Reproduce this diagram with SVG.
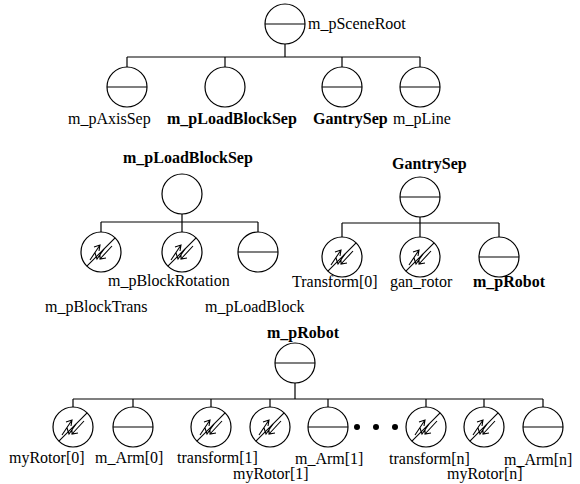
<svg xmlns="http://www.w3.org/2000/svg" xmlns:xlink="http://www.w3.org/1999/xlink" width="580" height="484" viewBox="0 0 580 484" font-family="'Liberation Serif', 'DejaVu Serif', serif" font-size="16">
<style>
.n{fill:#fff;stroke:#000;stroke-width:1.2}
.l{fill:none;stroke:#000;stroke-width:1.2}
.i{fill:none;stroke:#000;stroke-width:1.1}
.t{font-family:'Liberation Serif','DejaVu Serif',serif;font-size:16px;fill:#000}
.b{font-weight:bold}
</style>
<defs>
<g id="sep"><circle class="n" r="20"/><line class="i" x1="-20" y1="0" x2="20" y2="0"/></g>
<g id="grp"><circle class="n" r="20"/></g>
<g id="xf"><circle class="n" r="20"/>
<line class="i" x1="-14.1" y1="14.1" x2="14.1" y2="-14.1"/>
<path class="i" d="M-11,8 L-1,-7 M-7,-5 L-1,-7 L-2,-1 M-6,1 L-4,7 L3,-3 M11,-6 L-1,7 M-1,1 L-1,7 L5,6"/>
</g>
</defs>

<g id="connectors">
<path class="l" d="M285,44V57 M127,57H420 M127,57V67 M225,57V67 M342,57V67 M420,57V67"/>
<path class="l" d="M182,214V222 M101,222H258 M101,222V232 M182,222V232 M258,222V232"/>
<path class="l" d="M420,217V223 M342,223H499 M342,223V237 M420,223V237 M499,223V237"/>
<path class="l" d="M295,383V399 M73,399H543 M73,399V407 M133,399V407 M211,399V407 M270,399V407 M328,399V407 M426,399V407 M484,399V407 M543,399V407"/>
</g>

<g id="sceneRoot"><use xlink:href="#sep" x="285" y="24"/><text class="t" x="308" y="29">m_pSceneRoot</text></g>
<g id="axisSep"><use xlink:href="#sep" x="127" y="87"/><text class="t" x="68" y="124">m_pAxisSep</text></g>
<g id="loadBlockSep"><use xlink:href="#grp" x="225" y="87"/><text class="t b" x="167" y="124">m_pLoadBlockSep</text></g>
<g id="gantrySep"><use xlink:href="#sep" x="342" y="87"/><text class="t b" x="313" y="124">GantrySep</text></g>
<g id="line"><use xlink:href="#sep" x="420" y="87"/><text class="t" x="393" y="124">m_pLine</text></g>

<g id="loadBlockSep2"><text class="t b" x="123" y="163">m_pLoadBlockSep</text><use xlink:href="#grp" x="182" y="194"/></g>
<g id="blockTrans"><use xlink:href="#xf" x="101" y="252"/><text class="t" x="45" y="312">m_pBlockTrans</text></g>
<g id="blockRotation"><use xlink:href="#xf" x="182" y="252"/><text class="t" x="108" y="286">m_pBlockRotation</text></g>
<g id="loadBlock"><use xlink:href="#sep" x="258" y="252"/><text class="t" x="205" y="312">m_pLoadBlock</text></g>

<g id="gantrySep2"><text class="t b" x="392" y="169">GantrySep</text><use xlink:href="#sep" x="420" y="197"/></g>
<g id="transform0"><use xlink:href="#xf" x="342" y="257"/><text class="t" x="292" y="287">Transform[0]</text></g>
<g id="ganRotor"><use xlink:href="#xf" x="420" y="257"/><text class="t" x="390" y="287">gan_rotor</text></g>
<g id="robot"><use xlink:href="#sep" x="499" y="257"/><text class="t b" x="473" y="287">m_pRobot</text></g>

<g id="robot2"><text class="t b" x="267" y="338">m_pRobot</text><use xlink:href="#sep" x="295" y="363"/></g>
<g id="myRotor0"><use xlink:href="#xf" x="73" y="427"/><text class="t" x="9" y="463">myRotor[0]</text></g>
<g id="arm0"><use xlink:href="#sep" x="133" y="427"/><text class="t" x="95" y="463">m_Arm[0]</text></g>
<g id="transform1"><use xlink:href="#xf" x="211" y="427"/><text class="t" x="177" y="463">transform[1]</text></g>
<g id="myRotor1"><use xlink:href="#xf" x="270" y="427"/><text class="t" x="233" y="479">myRotor[1]</text></g>
<g id="arm1"><use xlink:href="#sep" x="328" y="427"/><text class="t" x="295" y="464">m_Arm[1]</text></g>
<g id="ellipsis"><circle cx="357" cy="427" r="3"/><circle cx="376" cy="427" r="3"/><circle cx="395" cy="427" r="3"/></g>
<g id="transformN"><use xlink:href="#xf" x="426" y="427"/><text class="t" x="389" y="464">transform[n]</text></g>
<g id="myRotorN"><use xlink:href="#xf" x="484" y="427"/><text class="t" x="447" y="479">myRotor[n]</text></g>
<g id="armN"><use xlink:href="#sep" x="543" y="427"/><text class="t" x="504" y="465">m_Arm[n]</text></g>
</svg>
